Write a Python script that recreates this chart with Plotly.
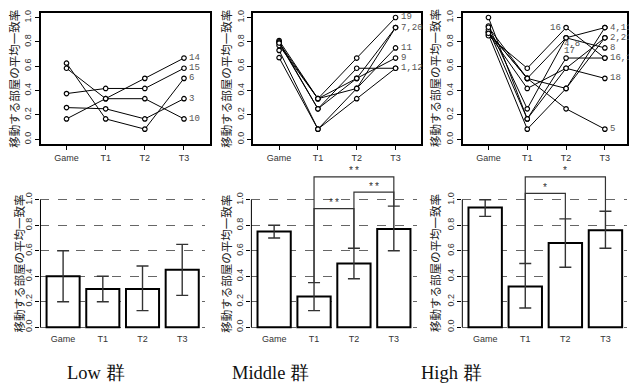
import plotly.graph_objects as go

W, H = 629, 389

# ---------------- data ----------------
conds = ["Game", "T1", "T2", "T3"]
y_ticks = [0.0, 0.2, 0.4, 0.6, 0.8, 1.0]
y_tick_text = ["0.0", "0.2", "0.4", "0.6", "0.8", "1.0"]
y_title = "移動する部屋の平均一致率"
group_names = ["Low 群", "Middle 群", "High 群"]

# Low group: per-subject values (Game, T1, T2, T3)
low_game = [0.167, 0.375, 0.625, 0.26, 0.583]
low_t1 = [0.333, 0.417, 0.167, 0.25, 0.333]
low_t2 = [0.5, 0.417, 0.083, 0.167, 0.333]
low_t3 = [0.667, 0.583, 0.5, 0.333, 0.167]
low_labels = ["14", "15", "6", "3", "10"]
low_label_y = [0.667, 0.583, 0.5, 0.333, 0.167]

# Middle group
mid_game = [0.81, 0.80, 0.79, 0.73, 0.77, 0.79, 0.67]
mid_t1 = [0.333, 0.25, 0.333, 0.083, 0.333, 0.25, 0.083]
mid_t2 = [0.667, 0.5, 0.417, 0.417, 0.5, 0.583, 0.333]
mid_t3 = [1.0, 0.917, 0.917, 0.75, 0.667, 0.583, 0.583]
mid_labels = ["19", "7,20", "11", "9", "1,12"]
mid_label_y = [1.0, 0.917, 0.75, 0.667, 0.583]

# High group
high_game = [0.93, 0.88, 1.0, 0.86, 0.88, 0.85, 0.90, 0.87, 0.92]
high_t1 = [0.25, 0.5, 0.167, 0.083, 0.5, 0.583, 0.167, 0.417, 0.5]
high_t2 = [0.833, 0.417, 0.583, 0.417, 0.833, 0.917, 0.667, 0.583, 0.25]
high_t3 = [0.917, 0.917, 0.833, 0.833, 0.75, 0.667, 0.667, 0.5, 0.083]
high_labels = ["4,11", "2,21", "8", "16,17", "18", "5"]
high_label_y = [0.917, 0.833, 0.75, 0.667, 0.5, 0.083]
high_t2_labels = ["16", "4,8", "17"]
high_t2_label_y = [0.917, 0.78, 0.725]

# Bar means and error bar limits
low_mean = [0.40, 0.30, 0.30, 0.45]
low_lo = [0.20, 0.20, 0.13, 0.25]
low_hi = [0.60, 0.40, 0.48, 0.65]
mid_mean = [0.75, 0.24, 0.50, 0.77]
mid_lo = [0.70, 0.13, 0.38, 0.60]
mid_hi = [0.80, 0.35, 0.62, 0.95]
high_mean = [0.94, 0.32, 0.66, 0.76]
high_lo = [0.87, 0.15, 0.47, 0.62]
high_hi = [1.00, 0.50, 0.85, 0.91]

# significance brackets: (from index, to index, label)
low_sig = []
mid_sig = [(1, 2, "**"), (2, 3, "**"), (1, 3, "**")]
high_sig = [(1, 2, "*"), (1, 3, "*")]
mid_sig_h = [0.93, 1.06, 1.18]
high_sig_h = [1.05, 1.18]

# ---------------- layout helpers ----------------
def px_x(p):
    return p / W


def px_y(p):
    return 1 - p / H


TICKFONT = dict(family="Liberation Sans, Arial, sans-serif", size=9, color="#333")
LABFONT = dict(family="Liberation Mono, DejaVu Sans Mono, monospace", size=9, color="#555")

fig = go.Figure()
layout = dict(
    width=W, height=H, margin=dict(l=0, r=0, t=0, b=0),
    paper_bgcolor="white", plot_bgcolor="white", showlegend=False,
    hovermode=False,
)
annotations = []
shapes = []

# top panels
top_px = [(40.8, 210.5), (254.3, 422.5), (464.3, 632.5)]
top_title_x = [14.5, 227, 437]
top_ybox = (9.7, 142.2)
xr0, xr1 = 0.34, 4.66

top_data = [
    (low_game, low_t1, low_t2, low_t3, low_labels, low_label_y),
    (mid_game, mid_t1, mid_t2, mid_t3, mid_labels, mid_label_y),
    (high_game, high_t1, high_t2, high_t3, high_labels, high_label_y),
]

for i, (a, b) in enumerate(top_px):
    n = i + 1
    rmax = xr1
    bb = b
    if b > W:
        rmax = xr0 + (W - a) / (b - a) * (xr1 - xr0)
        bb = W
    xa = "xaxis" if n == 1 else f"xaxis{n}"
    ya = "yaxis" if n == 1 else f"yaxis{n}"
    xs = "x" if n == 1 else f"x{n}"
    ys = "y" if n == 1 else f"y{n}"
    layout[xa] = dict(
        domain=[px_x(a), px_x(bb)], range=[xr0, rmax], anchor=ys,
        showline=True, mirror=True, linewidth=2, linecolor="black",
        showgrid=False, zeroline=False, tickvals=[1, 2, 3, 4], ticktext=conds,
        ticks="outside", ticklen=4, tickwidth=1, tickcolor="black", tickfont=TICKFONT,
    )
    layout[ya] = dict(
        domain=[px_y(top_ybox[1]), px_y(top_ybox[0])], range=[-0.04, 1.04], anchor=xs,
        showline=True, mirror=True, linewidth=2, linecolor="black",
        showgrid=False, zeroline=False, tickvals=y_ticks, ticktext=y_tick_text,
        ticks="outside", ticklen=4, tickwidth=1, tickcolor="black",
        tickangle=-90, tickfont=TICKFONT,
    )
    g, t1, t2, t3, labs, laby = top_data[i]
    for k in range(len(g)):
        fig.add_trace(go.Scatter(
            x=[1, 2, 3, 4], y=[g[k], t1[k], t2[k], t3[k]], xaxis=xs, yaxis=ys,
            mode="lines+markers", line=dict(color="black", width=1),
            marker=dict(symbol="circle", size=4.5, color="white",
                        line=dict(color="black", width=1.2)),
            hoverinfo="skip",
        ))
    for lab, yv in zip(labs, laby):
        annotations.append(dict(
            x=4, y=yv, xref=xs, yref=ys, text=lab, showarrow=False,
            xanchor="left", yanchor="middle", xshift=3, font=LABFONT,
        ))
    if n == 3:
        for lab, yv, anc in zip(high_t2_labels, high_t2_label_y, ["right", "left", "left"]):
            annotations.append(dict(
                x=3, y=yv, xref=xs, yref=ys, text=lab, showarrow=False,
                xanchor=anc, yanchor="middle", xshift=(-3 if anc == "right" else -4),
                font=LABFONT,
            ))
    annotations.append(dict(
        x=px_x(top_title_x[i]), y=px_y(76), xref="paper", yref="paper",
        text=y_title, textangle=-90, showarrow=False, xanchor="center", yanchor="middle",
        font=dict(family="Noto Sans CJK JP", size=11.5, color="#222"),
    ))

# bottom panels
bot_px = [(40.6, 205.5), (252.2, 417.9), (463.8, 630.3)]
bot_title_x = [20, 227, 437]
y0px, y1px = 326.7, 198.3          # pixel rows of 0.0 and 1.0
per = y0px - y1px
ybr = (-0.04, 1.25)
bx0, bx1 = 0.016, 4.984
bar_x = [0.7 + 1.2 * k for k in range(4)]

bot_data = [
    (low_mean, low_lo, low_hi, low_sig, []),
    (mid_mean, mid_lo, mid_hi, mid_sig, mid_sig_h),
    (high_mean, high_lo, high_hi, high_sig, high_sig_h),
]

for i, (a, b) in enumerate(bot_px):
    n = i + 4
    rmax = bx1
    bb = b
    if b > W:
        rmax = bx0 + (W - a) / (b - a) * (bx1 - bx0)
        bb = W
    xs, ys = f"x{n}", f"y{n}"
    layout[f"xaxis{n}"] = dict(
        domain=[px_x(a), px_x(bb)], range=[bx0, rmax], anchor=ys,
        showline=False, showgrid=False, zeroline=False,
        tickvals=bar_x, ticktext=conds, ticks="", tickfont=TICKFONT,
    )
    layout[f"yaxis{n}"] = dict(
        domain=[px_y(y0px - ybr[0] * per), px_y(y0px - ybr[1] * per)], range=list(ybr), anchor=xs,
        showline=False, zeroline=False, showgrid=True, griddash="dash",
        gridcolor="#666", gridwidth=1, tickvals=y_ticks, ticktext=y_tick_text,
        ticks="outside", ticklen=4, tickwidth=1, tickcolor="black",
        tickangle=-90, tickfont=TICKFONT,
    )
    mean, lo, hi, sig, sig_h = bot_data[i]
    fig.add_trace(go.Bar(
        x=bar_x, y=mean, width=1, xaxis=xs, yaxis=ys,
        marker=dict(color="white", line=dict(color="black", width=2)),
        error_y=dict(type="data", symmetric=False,
                     array=[h - m for h, m in zip(hi, mean)],
                     arrayminus=[m - l for m, l in zip(mean, lo)],
                     color="#333", thickness=1.4, width=6),
        hoverinfo="skip",
    ))
    for (p, q, lab), hgt in zip(sig, sig_h):
        fig.add_trace(go.Scatter(
            x=[bar_x[p], bar_x[p], bar_x[q], bar_x[q]],
            y=[hi[p], hgt, hgt, hi[q]], xaxis=xs, yaxis=ys, mode="lines",
            line=dict(color="#333", width=1.2), hoverinfo="skip",
        ))
        annotations.append(dict(
            x=(bar_x[p] + bar_x[q]) / 2, y=hgt, xref=xs, yref=ys, text=lab,
            showarrow=False, xanchor="center", yanchor="middle", yshift=5,
            font=dict(family="Liberation Mono, monospace", size=10, color="#333"),
        ))
    # left axis line spanning 0..1
    shapes.append(dict(
        type="line", xref="paper", yref="paper",
        x0=px_x(a), x1=px_x(a), y0=px_y(y0px), y1=px_y(y1px),
        line=dict(color="black", width=1),
    ))
    annotations.append(dict(
        x=px_x(bot_title_x[i]), y=px_y((y0px + y1px) / 2), xref="paper", yref="paper",
        text=y_title, textangle=-90, showarrow=False, xanchor="center", yanchor="middle",
        font=dict(family="Noto Sans CJK JP", size=11.5, color="#222"),
    ))

# group titles
for name, cx in zip(group_names, [96, 271, 453]):
    annotations.append(dict(
        x=px_x(cx), y=px_y(373), xref="paper", yref="paper", text=name,
        showarrow=False, xanchor="center", yanchor="middle",
        font=dict(family="Liberation Serif, DejaVu Serif, serif", size=18.5, color="#111"),
    ))

layout["annotations"] = annotations
layout["shapes"] = shapes
fig.update_layout(**layout)
fig.write_html(
    "out.html",
    config={"displayModeBar": False, "staticPlot": True},
    post_script="document.body.style.margin='0';document.body.style.padding='0';",
)
